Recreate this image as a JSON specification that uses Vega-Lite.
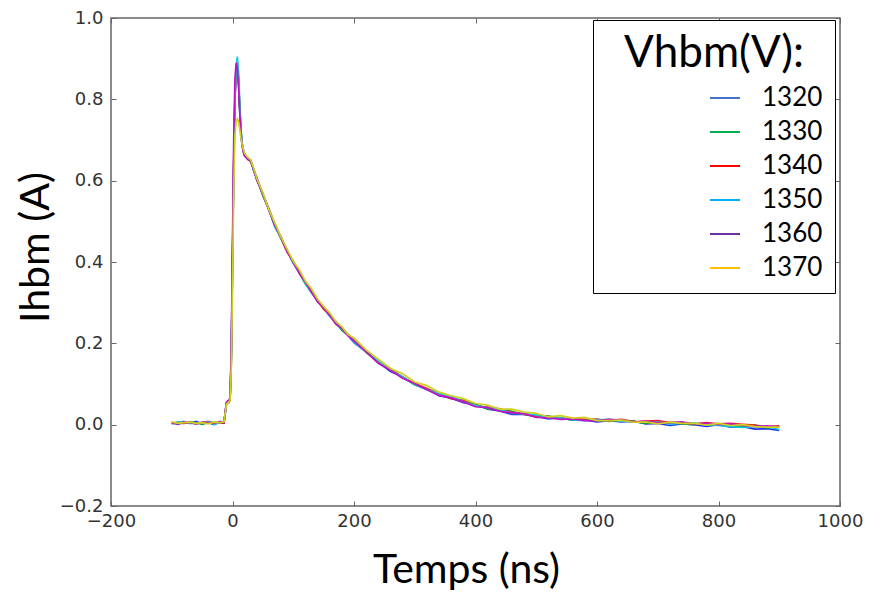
{
  "$schema": "https://vega.github.io/schema/vega-lite/v6.json",
  "width": 729,
  "height": 488,
  "autosize": "none",
  "padding": {"left": 111, "top": 18, "right": 29, "bottom": 86},
  "background": "white",
  "config": {"view": {"stroke": "#666666", "strokeWidth": 1.5}, "axis": {"grid": false}},
  "datasets": {
    "curves": [
      {"t":-100,"I":0.006,"V":"1320"},{"t":-90,"I":0.001,"V":"1320"},{"t":-80,"I":0.006,"V":"1320"},{"t":-70,"I":0.003,"V":"1320"},{"t":-60,"I":0.008,"V":"1320"},{"t":-50,"I":0.002,"V":"1320"},{"t":-40,"I":0.005,"V":"1320"},{"t":-30,"I":0.000,"V":"1320"},{"t":-20,"I":0.007,"V":"1320"},{"t":-14,"I":0.007,"V":"1320"},
      {"t":-12,"I":0.028,"V":"1320"},{"t":-10,"I":0.050,"V":"1320"},{"t":-8,"I":0.055,"V":"1320"},{"t":-6,"I":0.057,"V":"1320"},{"t":-4,"I":0.065,"V":"1320"},{"t":-2,"I":0.17,"V":"1320"},{"t":0,"I":0.41,"V":"1320"},{"t":2,"I":0.65,"V":"1320"},{"t":4,"I":0.81,"V":"1320"},{"t":6,"I":0.875,"V":"1320"},{"t":8,"I":0.885,"V":"1320"},{"t":10,"I":0.845,"V":"1320"},{"t":12,"I":0.775,"V":"1320"},{"t":14,"I":0.72,"V":"1320"},{"t":16,"I":0.69,"V":"1320"},{"t":18,"I":0.672,"V":"1320"},{"t":20,"I":0.663,"V":"1320"},
      {"t":25,"I":0.652,"V":"1320"},{"t":30,"I":0.649,"V":"1320"},{"t":35,"I":0.624,"V":"1320"},{"t":40,"I":0.608,"V":"1320"},{"t":50,"I":0.564,"V":"1320"},{"t":60,"I":0.528,"V":"1320"},{"t":70,"I":0.486,"V":"1320"},{"t":80,"I":0.460,"V":"1320"},{"t":90,"I":0.428,"V":"1320"},{"t":100,"I":0.397,"V":"1320"},{"t":110,"I":0.376,"V":"1320"},{"t":120,"I":0.348,"V":"1320"},{"t":130,"I":0.328,"V":"1320"},{"t":140,"I":0.302,"V":"1320"},{"t":150,"I":0.287,"V":"1320"},{"t":160,"I":0.267,"V":"1320"},{"t":170,"I":0.254,"V":"1320"},{"t":180,"I":0.233,"V":"1320"},{"t":190,"I":0.220,"V":"1320"},{"t":200,"I":0.202,"V":"1320"},
      {"t":220,"I":0.179,"V":"1320"},{"t":240,"I":0.154,"V":"1320"},{"t":260,"I":0.131,"V":"1320"},{"t":280,"I":0.118,"V":"1320"},{"t":300,"I":0.098,"V":"1320"},{"t":320,"I":0.088,"V":"1320"},{"t":340,"I":0.071,"V":"1320"},{"t":360,"I":0.065,"V":"1320"},{"t":380,"I":0.054,"V":"1320"},{"t":400,"I":0.050,"V":"1320"},{"t":420,"I":0.038,"V":"1320"},{"t":440,"I":0.034,"V":"1320"},{"t":460,"I":0.025,"V":"1320"},{"t":480,"I":0.026,"V":"1320"},{"t":500,"I":0.021,"V":"1320"},{"t":520,"I":0.014,"V":"1320"},{"t":540,"I":0.017,"V":"1320"},{"t":560,"I":0.011,"V":"1320"},{"t":580,"I":0.012,"V":"1320"},{"t":600,"I":0.007,"V":"1320"},{"t":620,"I":0.010,"V":"1320"},{"t":640,"I":0.007,"V":"1320"},{"t":660,"I":0.009,"V":"1320"},{"t":680,"I":0.002,"V":"1320"},{"t":700,"I":0.003,"V":"1320"},{"t":720,"I":-0.002,"V":"1320"},{"t":740,"I":0.002,"V":"1320"},{"t":760,"I":0.000,"V":"1320"},{"t":780,"I":-0.004,"V":"1320"},{"t":800,"I":0.000,"V":"1320"},{"t":820,"I":-0.006,"V":"1320"},{"t":840,"I":-0.005,"V":"1320"},{"t":860,"I":-0.011,"V":"1320"},{"t":880,"I":-0.010,"V":"1320"},{"t":900,"I":-0.014,"V":"1320"},

      {"t":-100,"I":0.003,"V":"1330"},{"t":-90,"I":0.006,"V":"1330"},{"t":-80,"I":0.003,"V":"1330"},{"t":-70,"I":0.007,"V":"1330"},{"t":-60,"I":0.005,"V":"1330"},{"t":-50,"I":0.001,"V":"1330"},{"t":-40,"I":0.006,"V":"1330"},{"t":-30,"I":0.006,"V":"1330"},{"t":-20,"I":0.004,"V":"1330"},{"t":-14,"I":0.004,"V":"1330"},
      {"t":-12,"I":0.032,"V":"1330"},{"t":-10,"I":0.054,"V":"1330"},{"t":-8,"I":0.057,"V":"1330"},{"t":-6,"I":0.055,"V":"1330"},{"t":-4,"I":0.060,"V":"1330"},{"t":-2,"I":0.15,"V":"1330"},{"t":0,"I":0.39,"V":"1330"},{"t":2,"I":0.63,"V":"1330"},{"t":4,"I":0.80,"V":"1330"},{"t":6,"I":0.87,"V":"1330"},{"t":8,"I":0.88,"V":"1330"},{"t":10,"I":0.84,"V":"1330"},{"t":12,"I":0.77,"V":"1330"},{"t":14,"I":0.715,"V":"1330"},{"t":16,"I":0.685,"V":"1330"},{"t":18,"I":0.670,"V":"1330"},{"t":20,"I":0.662,"V":"1330"},
      {"t":25,"I":0.657,"V":"1330"},{"t":30,"I":0.646,"V":"1330"},{"t":35,"I":0.628,"V":"1330"},{"t":40,"I":0.605,"V":"1330"},{"t":50,"I":0.563,"V":"1330"},{"t":60,"I":0.529,"V":"1330"},{"t":70,"I":0.492,"V":"1330"},{"t":80,"I":0.457,"V":"1330"},{"t":90,"I":0.425,"V":"1330"},{"t":100,"I":0.402,"V":"1330"},{"t":110,"I":0.373,"V":"1330"},{"t":120,"I":0.346,"V":"1330"},{"t":130,"I":0.325,"V":"1330"},{"t":140,"I":0.307,"V":"1330"},{"t":150,"I":0.284,"V":"1330"},{"t":160,"I":0.271,"V":"1330"},{"t":170,"I":0.251,"V":"1330"},{"t":180,"I":0.232,"V":"1330"},{"t":190,"I":0.221,"V":"1330"},{"t":200,"I":0.208,"V":"1330"},
      {"t":220,"I":0.178,"V":"1330"},{"t":240,"I":0.153,"V":"1330"},{"t":260,"I":0.138,"V":"1330"},{"t":280,"I":0.117,"V":"1330"},{"t":300,"I":0.098,"V":"1330"},{"t":320,"I":0.087,"V":"1330"},{"t":340,"I":0.078,"V":"1330"},{"t":360,"I":0.064,"V":"1330"},{"t":380,"I":0.060,"V":"1330"},{"t":400,"I":0.049,"V":"1330"},{"t":420,"I":0.039,"V":"1330"},{"t":440,"I":0.037,"V":"1330"},{"t":460,"I":0.033,"V":"1330"},{"t":480,"I":0.025,"V":"1330"},{"t":500,"I":0.020,"V":"1330"},{"t":520,"I":0.021,"V":"1330"},{"t":540,"I":0.016,"V":"1330"},{"t":560,"I":0.011,"V":"1330"},{"t":580,"I":0.011,"V":"1330"},{"t":600,"I":0.013,"V":"1330"},{"t":620,"I":0.008,"V":"1330"},{"t":640,"I":0.012,"V":"1330"},{"t":660,"I":0.008,"V":"1330"},{"t":680,"I":0.003,"V":"1330"},{"t":700,"I":0.006,"V":"1330"},{"t":720,"I":0.006,"V":"1330"},{"t":740,"I":0.002,"V":"1330"},{"t":760,"I":0.000,"V":"1330"},{"t":780,"I":0.004,"V":"1330"},{"t":800,"I":0.000,"V":"1330"},{"t":820,"I":-0.004,"V":"1330"},{"t":840,"I":-0.004,"V":"1330"},{"t":860,"I":-0.002,"V":"1330"},{"t":880,"I":-0.008,"V":"1330"},{"t":900,"I":-0.005,"V":"1330"},

      {"t":-100,"I":0.005,"V":"1340"},{"t":-90,"I":0.004,"V":"1340"},{"t":-80,"I":0.003,"V":"1340"},{"t":-70,"I":0.006,"V":"1340"},{"t":-60,"I":0.002,"V":"1340"},{"t":-50,"I":0.005,"V":"1340"},{"t":-40,"I":0.008,"V":"1340"},{"t":-30,"I":0.003,"V":"1340"},{"t":-20,"I":0.005,"V":"1340"},{"t":-14,"I":0.004,"V":"1340"},
      {"t":-12,"I":0.030,"V":"1340"},{"t":-10,"I":0.052,"V":"1340"},{"t":-8,"I":0.054,"V":"1340"},{"t":-6,"I":0.058,"V":"1340"},{"t":-4,"I":0.063,"V":"1340"},{"t":-2,"I":0.16,"V":"1340"},{"t":0,"I":0.40,"V":"1340"},{"t":2,"I":0.64,"V":"1340"},{"t":4,"I":0.80,"V":"1340"},{"t":6,"I":0.87,"V":"1340"},{"t":8,"I":0.89,"V":"1340"},{"t":10,"I":0.85,"V":"1340"},{"t":12,"I":0.78,"V":"1340"},{"t":14,"I":0.72,"V":"1340"},{"t":16,"I":0.69,"V":"1340"},{"t":18,"I":0.675,"V":"1340"},{"t":20,"I":0.666,"V":"1340"},
      {"t":25,"I":0.655,"V":"1340"},{"t":30,"I":0.646,"V":"1340"},{"t":35,"I":0.627,"V":"1340"},{"t":40,"I":0.602,"V":"1340"},{"t":50,"I":0.567,"V":"1340"},{"t":60,"I":0.531,"V":"1340"},{"t":70,"I":0.489,"V":"1340"},{"t":80,"I":0.458,"V":"1340"},{"t":90,"I":0.425,"V":"1340"},{"t":100,"I":0.401,"V":"1340"},{"t":110,"I":0.372,"V":"1340"},{"t":120,"I":0.350,"V":"1340"},{"t":130,"I":0.327,"V":"1340"},{"t":140,"I":0.305,"V":"1340"},{"t":150,"I":0.284,"V":"1340"},{"t":160,"I":0.270,"V":"1340"},{"t":170,"I":0.248,"V":"1340"},{"t":180,"I":0.236,"V":"1340"},{"t":190,"I":0.223,"V":"1340"},{"t":200,"I":0.205,"V":"1340"},
      {"t":220,"I":0.179,"V":"1340"},{"t":240,"I":0.153,"V":"1340"},{"t":260,"I":0.137,"V":"1340"},{"t":280,"I":0.116,"V":"1340"},{"t":300,"I":0.102,"V":"1340"},{"t":320,"I":0.089,"V":"1340"},{"t":340,"I":0.076,"V":"1340"},{"t":360,"I":0.064,"V":"1340"},{"t":380,"I":0.059,"V":"1340"},{"t":400,"I":0.046,"V":"1340"},{"t":420,"I":0.043,"V":"1340"},{"t":440,"I":0.039,"V":"1340"},{"t":460,"I":0.030,"V":"1340"},{"t":480,"I":0.026,"V":"1340"},{"t":500,"I":0.020,"V":"1340"},{"t":520,"I":0.020,"V":"1340"},{"t":540,"I":0.015,"V":"1340"},{"t":560,"I":0.015,"V":"1340"},{"t":580,"I":0.013,"V":"1340"},{"t":600,"I":0.013,"V":"1340"},{"t":620,"I":0.010,"V":"1340"},{"t":640,"I":0.013,"V":"1340"},{"t":660,"I":0.007,"V":"1340"},{"t":680,"I":0.009,"V":"1340"},{"t":700,"I":0.010,"V":"1340"},{"t":720,"I":0.005,"V":"1340"},{"t":740,"I":0.005,"V":"1340"},{"t":760,"I":0.002,"V":"1340"},{"t":780,"I":0.005,"V":"1340"},{"t":800,"I":0.002,"V":"1340"},{"t":820,"I":0.003,"V":"1340"},{"t":840,"I":0.001,"V":"1340"},{"t":860,"I":-0.001,"V":"1340"},{"t":880,"I":-0.005,"V":"1340"},{"t":900,"I":-0.003,"V":"1340"},

      {"t":-100,"I":0.002,"V":"1350"},{"t":-90,"I":0.005,"V":"1350"},{"t":-80,"I":0.008,"V":"1350"},{"t":-70,"I":0.003,"V":"1350"},{"t":-60,"I":0.003,"V":"1350"},{"t":-50,"I":0.004,"V":"1350"},{"t":-40,"I":0.007,"V":"1350"},{"t":-30,"I":0.001,"V":"1350"},{"t":-20,"I":0.006,"V":"1350"},{"t":-14,"I":0.008,"V":"1350"},
      {"t":-12,"I":0.026,"V":"1350"},{"t":-10,"I":0.049,"V":"1350"},{"t":-8,"I":0.056,"V":"1350"},{"t":-6,"I":0.054,"V":"1350"},{"t":-4,"I":0.062,"V":"1350"},{"t":-2,"I":0.16,"V":"1350"},{"t":0,"I":0.38,"V":"1350"},{"t":2,"I":0.62,"V":"1350"},{"t":4,"I":0.79,"V":"1350"},{"t":6,"I":0.875,"V":"1350"},{"t":8,"I":0.905,"V":"1350"},{"t":10,"I":0.865,"V":"1350"},{"t":12,"I":0.79,"V":"1350"},{"t":14,"I":0.725,"V":"1350"},{"t":16,"I":0.692,"V":"1350"},{"t":18,"I":0.674,"V":"1350"},{"t":20,"I":0.665,"V":"1350"},
      {"t":25,"I":0.656,"V":"1350"},{"t":30,"I":0.651,"V":"1350"},{"t":35,"I":0.624,"V":"1350"},{"t":40,"I":0.603,"V":"1350"},{"t":50,"I":0.566,"V":"1350"},{"t":60,"I":0.530,"V":"1350"},{"t":70,"I":0.487,"V":"1350"},{"t":80,"I":0.459,"V":"1350"},{"t":90,"I":0.429,"V":"1350"},{"t":100,"I":0.398,"V":"1350"},{"t":110,"I":0.373,"V":"1350"},{"t":120,"I":0.347,"V":"1350"},{"t":130,"I":0.324,"V":"1350"},{"t":140,"I":0.306,"V":"1350"},{"t":150,"I":0.289,"V":"1350"},{"t":160,"I":0.267,"V":"1350"},{"t":170,"I":0.249,"V":"1350"},{"t":180,"I":0.235,"V":"1350"},{"t":190,"I":0.222,"V":"1350"},{"t":200,"I":0.203,"V":"1350"},
      {"t":220,"I":0.180,"V":"1350"},{"t":240,"I":0.157,"V":"1350"},{"t":260,"I":0.134,"V":"1350"},{"t":280,"I":0.117,"V":"1350"},{"t":300,"I":0.099,"V":"1350"},{"t":320,"I":0.086,"V":"1350"},{"t":340,"I":0.077,"V":"1350"},{"t":360,"I":0.069,"V":"1350"},{"t":380,"I":0.056,"V":"1350"},{"t":400,"I":0.047,"V":"1350"},{"t":420,"I":0.042,"V":"1350"},{"t":440,"I":0.038,"V":"1350"},{"t":460,"I":0.028,"V":"1350"},{"t":480,"I":0.027,"V":"1350"},{"t":500,"I":0.024,"V":"1350"},{"t":520,"I":0.017,"V":"1350"},{"t":540,"I":0.016,"V":"1350"},{"t":560,"I":0.012,"V":"1350"},{"t":580,"I":0.010,"V":"1350"},{"t":600,"I":0.012,"V":"1350"},{"t":620,"I":0.013,"V":"1350"},{"t":640,"I":0.008,"V":"1350"},{"t":660,"I":0.006,"V":"1350"},{"t":680,"I":0.006,"V":"1350"},{"t":700,"I":0.007,"V":"1350"},{"t":720,"I":0.001,"V":"1350"},{"t":740,"I":0.004,"V":"1350"},{"t":760,"I":0.004,"V":"1350"},{"t":780,"I":0.000,"V":"1350"},{"t":800,"I":-0.002,"V":"1350"},{"t":820,"I":-0.005,"V":"1350"},{"t":840,"I":-0.007,"V":"1350"},{"t":860,"I":-0.005,"V":"1350"},{"t":880,"I":-0.005,"V":"1350"},{"t":900,"I":-0.012,"V":"1350"},

      {"t":-100,"I":0.004,"V":"1360"},{"t":-90,"I":0.002,"V":"1360"},{"t":-80,"I":0.007,"V":"1360"},{"t":-70,"I":0.005,"V":"1360"},{"t":-60,"I":0.002,"V":"1360"},{"t":-50,"I":0.006,"V":"1360"},{"t":-40,"I":0.004,"V":"1360"},{"t":-30,"I":0.004,"V":"1360"},{"t":-20,"I":0.008,"V":"1360"},{"t":-14,"I":0.004,"V":"1360"},
      {"t":-12,"I":0.031,"V":"1360"},{"t":-10,"I":0.055,"V":"1360"},{"t":-8,"I":0.058,"V":"1360"},{"t":-6,"I":0.057,"V":"1360"},{"t":-4,"I":0.068,"V":"1360"},{"t":-2,"I":0.19,"V":"1360"},{"t":0,"I":0.45,"V":"1360"},{"t":2,"I":0.70,"V":"1360"},{"t":4,"I":0.85,"V":"1360"},{"t":6,"I":0.89,"V":"1360"},{"t":8,"I":0.875,"V":"1360"},{"t":10,"I":0.83,"V":"1360"},{"t":12,"I":0.765,"V":"1360"},{"t":14,"I":0.71,"V":"1360"},{"t":16,"I":0.685,"V":"1360"},{"t":18,"I":0.670,"V":"1360"},{"t":20,"I":0.660,"V":"1360"},
      {"t":25,"I":0.653,"V":"1360"},{"t":30,"I":0.650,"V":"1360"},{"t":35,"I":0.626,"V":"1360"},{"t":40,"I":0.602,"V":"1360"},{"t":50,"I":0.568,"V":"1360"},{"t":60,"I":0.527,"V":"1360"},{"t":70,"I":0.490,"V":"1360"},{"t":80,"I":0.461,"V":"1360"},{"t":90,"I":0.425,"V":"1360"},{"t":100,"I":0.400,"V":"1360"},{"t":110,"I":0.372,"V":"1360"},{"t":120,"I":0.351,"V":"1360"},{"t":130,"I":0.326,"V":"1360"},{"t":140,"I":0.303,"V":"1360"},{"t":150,"I":0.288,"V":"1360"},{"t":160,"I":0.269,"V":"1360"},{"t":170,"I":0.248,"V":"1360"},{"t":180,"I":0.237,"V":"1360"},{"t":190,"I":0.219,"V":"1360"},{"t":200,"I":0.206,"V":"1360"},
      {"t":220,"I":0.180,"V":"1360"},{"t":240,"I":0.151,"V":"1360"},{"t":260,"I":0.134,"V":"1360"},{"t":280,"I":0.114,"V":"1360"},{"t":300,"I":0.101,"V":"1360"},{"t":320,"I":0.086,"V":"1360"},{"t":340,"I":0.072,"V":"1360"},{"t":360,"I":0.066,"V":"1360"},{"t":380,"I":0.056,"V":"1360"},{"t":400,"I":0.044,"V":"1360"},{"t":420,"I":0.042,"V":"1360"},{"t":440,"I":0.033,"V":"1360"},{"t":460,"I":0.029,"V":"1360"},{"t":480,"I":0.027,"V":"1360"},{"t":500,"I":0.018,"V":"1360"},{"t":520,"I":0.017,"V":"1360"},{"t":540,"I":0.013,"V":"1360"},{"t":560,"I":0.014,"V":"1360"},{"t":580,"I":0.010,"V":"1360"},{"t":600,"I":0.010,"V":"1360"},{"t":620,"I":0.013,"V":"1360"},{"t":640,"I":0.011,"V":"1360"},{"t":660,"I":0.006,"V":"1360"},{"t":680,"I":0.009,"V":"1360"},{"t":700,"I":0.005,"V":"1360"},{"t":720,"I":0.005,"V":"1360"},{"t":740,"I":0.007,"V":"1360"},{"t":760,"I":0.001,"V":"1360"},{"t":780,"I":0.003,"V":"1360"},{"t":800,"I":0.000,"V":"1360"},{"t":820,"I":0.002,"V":"1360"},{"t":840,"I":-0.002,"V":"1360"},{"t":860,"I":-0.005,"V":"1360"},{"t":880,"I":-0.003,"V":"1360"},{"t":900,"I":-0.006,"V":"1360"},

      {"t":-100,"I":0.007,"V":"1370"},{"t":-90,"I":0.003,"V":"1370"},{"t":-80,"I":0.005,"V":"1370"},{"t":-70,"I":0.006,"V":"1370"},{"t":-60,"I":0.003,"V":"1370"},{"t":-50,"I":0.005,"V":"1370"},{"t":-40,"I":0.002,"V":"1370"},{"t":-30,"I":0.006,"V":"1370"},{"t":-20,"I":0.005,"V":"1370"},{"t":-14,"I":0.007,"V":"1370"},
      {"t":-12,"I":0.029,"V":"1370"},{"t":-10,"I":0.051,"V":"1370"},{"t":-8,"I":0.053,"V":"1370"},{"t":-6,"I":0.056,"V":"1370"},{"t":-4,"I":0.058,"V":"1370"},{"t":-2,"I":0.14,"V":"1370"},{"t":0,"I":0.34,"V":"1370"},{"t":2,"I":0.58,"V":"1370"},{"t":4,"I":0.71,"V":"1370"},{"t":6,"I":0.745,"V":"1370"},{"t":8,"I":0.752,"V":"1370"},{"t":10,"I":0.745,"V":"1370"},{"t":12,"I":0.725,"V":"1370"},{"t":14,"I":0.705,"V":"1370"},{"t":16,"I":0.688,"V":"1370"},{"t":18,"I":0.676,"V":"1370"},{"t":20,"I":0.667,"V":"1370"},
      {"t":25,"I":0.657,"V":"1370"},{"t":30,"I":0.651,"V":"1370"},{"t":35,"I":0.630,"V":"1370"},{"t":40,"I":0.606,"V":"1370"},{"t":50,"I":0.570,"V":"1370"},{"t":60,"I":0.528,"V":"1370"},{"t":70,"I":0.495,"V":"1370"},{"t":80,"I":0.461,"V":"1370"},{"t":90,"I":0.431,"V":"1370"},{"t":100,"I":0.402,"V":"1370"},{"t":110,"I":0.381,"V":"1370"},{"t":120,"I":0.353,"V":"1370"},{"t":130,"I":0.334,"V":"1370"},{"t":140,"I":0.309,"V":"1370"},{"t":150,"I":0.291,"V":"1370"},{"t":160,"I":0.275,"V":"1370"},{"t":170,"I":0.254,"V":"1370"},{"t":180,"I":0.241,"V":"1370"},{"t":190,"I":0.222,"V":"1370"},{"t":200,"I":0.213,"V":"1370"},
      {"t":220,"I":0.184,"V":"1370"},{"t":240,"I":0.161,"V":"1370"},{"t":260,"I":0.138,"V":"1370"},{"t":280,"I":0.125,"V":"1370"},{"t":300,"I":0.105,"V":"1370"},{"t":320,"I":0.096,"V":"1370"},{"t":340,"I":0.080,"V":"1370"},{"t":360,"I":0.071,"V":"1370"},{"t":380,"I":0.064,"V":"1370"},{"t":400,"I":0.052,"V":"1370"},{"t":420,"I":0.048,"V":"1370"},{"t":440,"I":0.038,"V":"1370"},{"t":460,"I":0.038,"V":"1370"},{"t":480,"I":0.031,"V":"1370"},{"t":500,"I":0.028,"V":"1370"},{"t":520,"I":0.019,"V":"1370"},{"t":540,"I":0.022,"V":"1370"},{"t":560,"I":0.016,"V":"1370"},{"t":580,"I":0.018,"V":"1370"},{"t":600,"I":0.010,"V":"1370"},{"t":620,"I":0.010,"V":"1370"},{"t":640,"I":0.011,"V":"1370"},{"t":660,"I":0.006,"V":"1370"},{"t":680,"I":0.007,"V":"1370"},{"t":700,"I":0.002,"V":"1370"},{"t":720,"I":0.006,"V":"1370"},{"t":740,"I":0.003,"V":"1370"},{"t":760,"I":0.003,"V":"1370"},{"t":780,"I":-0.001,"V":"1370"},{"t":800,"I":0.003,"V":"1370"},{"t":820,"I":-0.002,"V":"1370"},{"t":840,"I":0.000,"V":"1370"},{"t":860,"I":-0.005,"V":"1370"},{"t":880,"I":-0.006,"V":"1370"},{"t":900,"I":-0.006,"V":"1370"}
    ],
    "legendkeys": [
      {"t":-100,"I":0.004,"V":"1320"},{"t":-100,"I":0.004,"V":"1330"},{"t":-100,"I":0.004,"V":"1340"},{"t":-100,"I":0.004,"V":"1350"},{"t":-100,"I":0.004,"V":"1360"},{"t":-100,"I":0.004,"V":"1370"}
    ]
  },
  "layer": [
    {
      "data": {"name": "curves"},
      "mark": {"type": "line", "strokeWidth": 1.7},
      "encoding": {
        "x": {
          "field": "t", "type": "quantitative",
          "scale": {"domain": [-200, 1000], "nice": false, "zero": false},
          "axis": {
            "values": [-200, 0, 200, 400, 600, 800, 1000], "format": "d",
            "title": "Temps (ns)", "titleFont": "Lato", "titleFontSize": 41, "titleFontWeight": "normal", "titleColor": "black",
            "titleBaseline": "alphabetic", "titleX": 355, "titleY": 76,
            "labelFont": "DejaVu Sans", "labelFontSize": 18, "labelColor": "#333333", "labelPadding": 11,
            "labelOverlap": false, "labelFlush": false, "labelBound": false,
            "tickSize": -5, "tickColor": "#666666", "domain": false, "grid": false
          }
        },
        "y": {
          "field": "I", "type": "quantitative",
          "scale": {"domain": [-0.2, 1.0], "nice": false, "zero": false},
          "axis": {
            "values": [-0.2, 0, 0.2, 0.4, 0.6, 0.8, 1.0], "format": ".1f",
            "title": "Ihbm (A)", "titleFont": "Lato", "titleFontSize": 41, "titleFontWeight": "normal", "titleColor": "black",
            "titleBaseline": "alphabetic", "titleX": -63, "titleY": 229,
            "labelFont": "DejaVu Sans", "labelFontSize": 18, "labelColor": "#333333", "labelPadding": 13,
            "labelOverlap": false, "labelFlush": false, "labelBound": false,
            "tickSize": -5, "tickColor": "#666666", "domain": false, "grid": false
          }
        },
        "color": {
          "field": "V", "type": "nominal",
          "scale": {"domain": ["1320", "1330", "1340", "1350", "1360", "1370"], "range": ["#2030f0", "#10a030", "#f02020", "#10c8d8", "#c010c8", "#d0d020"]},
          "legend": null
        }
      }
    },
    {
      "data": {"name": "legendkeys"},
      "mark": {"type": "line", "strokeWidth": 2},
      "encoding": {
        "x": {
          "field": "t", "type": "quantitative",
          "axis": {"orient": "top", "values": [-200, 0, 200, 400, 600, 800, 1000], "labels": false, "title": null, "tickSize": -5, "tickColor": "#666666", "domain": false, "grid": false}
        },
        "y": {
          "field": "I", "type": "quantitative",
          "axis": {"orient": "right", "values": [-0.2, 0, 0.2, 0.4, 0.6, 0.8, 1.0], "labels": false, "title": null, "tickSize": -5, "tickColor": "#666666", "domain": false, "grid": false}
        },
        "color": {
          "field": "V", "type": "nominal",
          "scale": {"domain": ["1320", "1330", "1340", "1350", "1360", "1370"], "range": ["#4472c4", "#00b050", "#ff0000", "#00b0f0", "#7030a0", "#ffc000"]},
          "legend": {
            "title": "Vhbm(V):", "orient": "none", "legendX": 482, "legendY": 2,
            "titleFont": "Lato", "titleFontSize": 44, "titleFontWeight": "normal", "titleColor": "black", "titleAnchor": "middle", "titlePadding": 6,
            "labelFont": "Lato", "labelFontSize": 26, "labelColor": "black",
            "symbolType": "stroke", "symbolSize": 900, "symbolStrokeWidth": 2, "symbolOffset": 104, "labelOffset": 21,
            "rowPadding": 5, "padding": 12, "strokeColor": "black", "fillColor": "white"
          }
        }
      }
    }
  ],
  "resolve": {"scale": {"color": "independent"}, "axis": {"x": "independent", "y": "independent"}}
}
